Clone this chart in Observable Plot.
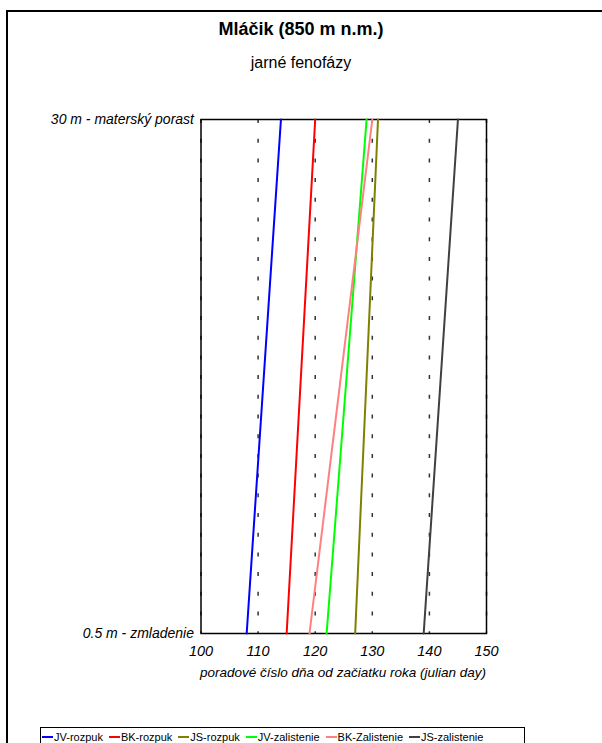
<!DOCTYPE html>
<html>
<head>
<meta charset="utf-8">
<script src="https://cdn.jsdelivr.net/npm/d3@7"></script>
<script src="https://cdn.jsdelivr.net/npm/@observablehq/plot@0.6"></script>
<style>
  html, body { margin: 0; padding: 0; background: #fff; }
  body { width: 602px; height: 743px; overflow: hidden; font-family: Arial, "Liberation Sans", sans-serif; }
  #wrap { position: relative; width: 602px; height: 743px; }
  #outer { position: absolute; left: 6px; top: 10px; width: 800px; height: 900px; border-left: 2px solid #000; border-top: 2px solid #000; box-sizing: border-box; }
  #chart { position: absolute; left: 0; top: 0; }
  .title { position: absolute; left: 0; width: 602px; text-align: center; color: #000; }
  #t1 { top: 19px; font-size: 18px; font-weight: bold; }
  #t2 { top: 54px; font-size: 16px; }
  #xlabel { position: absolute; top: 665px; left: 143px; width: 400px; text-align: center; font-size: 13.5px; font-style: italic; }
  #legend { position: absolute; left: 40px; top: 727px; width: 485px; height: 30px; border: 1px solid #000; box-sizing: border-box; display: flex; gap: 6px; padding-left: 1px; padding-top: 2px; font-size: 11px; }
  .item { display: flex; align-items: center; height: 13px; white-space: nowrap; }
  .sw { width: 11px; height: 2px; margin-right: 1px; }
  #chart svg text { font-style: italic; }
</style>
</head>
<body>
<div id="wrap">
  <div id="outer"></div>
  <div id="chart"></div>
  <div class="title" id="t1">Mláčik (850 m n.m.)</div>
  <div class="title" id="t2">jarné fenofázy</div>
  <div id="xlabel">poradové číslo dňa od začiatku roka (julian day)</div>
  <div id="legend"></div>
</div>
<script>
const seriesNames = ["JV-rozpuk", "BK-rozpuk", "JS-rozpuk", "JV-zalistenie", "BK-Zalistenie", "JS-zalistenie"];
const seriesColors = ["#0000ff", "#ff0000", "#808000", "#00ff00", "#ff8080", "#404040"];
const heights = [0.5, 30];
const dayAtBottom = [108, 115, 127, 122, 119, 139];
const dayAtTop = [114, 120, 131, 129, 130, 145];
const xTicks = [100, 110, 120, 130, 140, 150];
const yTickLabels = ["0.5 m - zmladenie", "30 m - materský porast"];

const rows = [];
seriesNames.forEach((s, i) => {
  rows.push({series: s, h: heights[0], day: dayAtBottom[i]});
  rows.push({series: s, h: heights[1], day: dayAtTop[i]});
});

const plot = Plot.plot({
  width: 602,
  height: 743,
  marginLeft: 200.5,
  marginRight: 116,
  marginTop: 119,
  marginBottom: 110,
  style: {fontFamily: "Arial, 'Liberation Sans', sans-serif", fontStyle: "italic", background: "transparent", color: "#000", overflow: "visible"},
  x: {domain: [100, 150]},
  y: {domain: [0.5, 30]},
  color: {domain: seriesNames, range: seriesColors},
  marks: [
    Plot.ruleX(xTicks, {stroke: "#333", strokeWidth: 1.5, strokeDasharray: "4,15.7"}),
    Plot.frame({stroke: "#000", strokeWidth: 1.5}),
    Plot.line(rows, {x: "day", y: "h", z: "series", stroke: "series", strokeWidth: 2}),
    Plot.axisX({ticks: xTicks, tickSize: 0, tickPadding: 12, fontSize: 14.5, fontStyle: "italic", label: null}),
    Plot.axisY({ticks: heights, tickFormat: (d) => yTickLabels[heights.indexOf(d)], tickSize: 0, tickPadding: 7, fontSize: 14, fontStyle: "italic", label: null})
  ]
});
document.getElementById("chart").appendChild(plot);

const legend = document.getElementById("legend");
seriesNames.forEach((s, i) => {
  const item = document.createElement("div");
  item.className = "item";
  const sw = document.createElement("span");
  sw.className = "sw";
  sw.style.background = seriesColors[i];
  item.appendChild(sw);
  item.appendChild(document.createTextNode(s));
  legend.appendChild(item);
});
</script>
</body>
</html>
